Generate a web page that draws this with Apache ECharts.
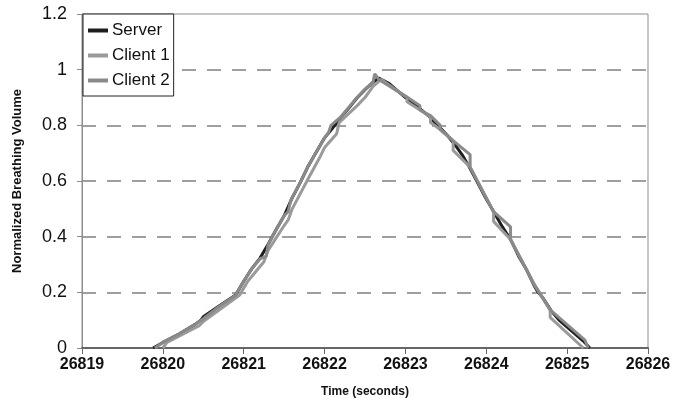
<!DOCTYPE html>
<html>
<head>
<meta charset="utf-8">
<script src="https://cdn.jsdelivr.net/npm/echarts@6/dist/echarts.min.js"></script>
<style>html,body{margin:0;padding:0;background:#fff}#c{width:685px;height:403px}</style>
</head>
<body>
<div id="c"></div>
<script>
const xTicks = [26819, 26820, 26821, 26822, 26823, 26824, 26825, 26826];
const yTicks = [0, 0.2, 0.4, 0.6, 0.8, 1, 1.2];

const serverT = [26819.88, 26820.0, 26820.2, 26820.4, 26820.47, 26820.5, 26820.7, 26820.9, 26821.0, 26821.1, 26821.2, 26821.3, 26821.4, 26821.5, 26821.6, 26821.7, 26821.8, 26821.9, 26822.0, 26822.1, 26822.2, 26822.3, 26822.4, 26822.5, 26822.6, 26822.67, 26822.8, 26822.9, 26823.0, 26823.1, 26823.2, 26823.3, 26823.4, 26823.5, 26823.6, 26823.7, 26823.8, 26823.9, 26824.0, 26824.1, 26824.2, 26824.3, 26824.4, 26824.5, 26824.6, 26824.63, 26824.7, 26824.8, 26824.9, 26825.0, 26825.1, 26825.2, 26825.28];
const serverV = [0, 0.02, 0.05, 0.085, 0.1, 0.112, 0.152, 0.19, 0.24, 0.285, 0.322, 0.372, 0.425, 0.475, 0.54, 0.595, 0.655, 0.705, 0.755, 0.79, 0.828, 0.862, 0.898, 0.928, 0.955, 0.97, 0.95, 0.925, 0.9, 0.88, 0.855, 0.83, 0.8, 0.77, 0.735, 0.695, 0.645, 0.59, 0.535, 0.485, 0.435, 0.39, 0.33, 0.28, 0.22, 0.205, 0.18, 0.135, 0.1, 0.075, 0.05, 0.025, 0];

const client1T = [26820.0, 26820.05, 26820.45, 26820.5, 26820.95, 26821.05, 26821.25, 26821.3, 26821.5, 26821.55, 26821.6, 26821.8, 26821.95, 26822.0, 26822.15, 26822.18, 26822.4, 26822.5, 26822.6, 26822.7, 26823.02, 26823.02, 26823.18, 26823.31, 26823.31, 26823.43, 26823.59, 26823.59, 26823.8, 26824.09, 26824.09, 26824.3, 26824.6, 26824.79, 26824.79, 26825.2];
const client1V = [0, 0.02, 0.08, 0.095, 0.19, 0.24, 0.31, 0.35, 0.44, 0.46, 0.5, 0.61, 0.69, 0.72, 0.77, 0.81, 0.87, 0.9, 0.94, 0.965, 0.9, 0.885, 0.855, 0.83, 0.81, 0.785, 0.745, 0.71, 0.65, 0.49, 0.455, 0.39, 0.225, 0.137, 0.11, 0];

const client2T = [26819.9, 26820.0, 26820.2, 26820.4, 26820.5, 26820.7, 26820.9, 26821.0, 26821.1, 26821.2, 26821.28, 26821.3, 26821.4, 26821.5, 26821.55, 26821.58, 26821.7, 26821.8, 26821.9, 26822.0, 26822.05, 26822.08, 26822.2, 26822.3, 26822.4, 26822.5, 26822.6, 26822.62, 26822.67, 26823.0, 26823.18, 26823.18, 26823.31, 26823.43, 26823.43, 26823.59, 26823.8, 26823.8, 26824.09, 26824.3, 26824.3, 26824.6, 26824.79, 26825.22, 26825.26];
const client2V = [0, 0.02, 0.05, 0.085, 0.105, 0.15, 0.19, 0.24, 0.285, 0.32, 0.33, 0.37, 0.425, 0.475, 0.49, 0.53, 0.595, 0.655, 0.705, 0.755, 0.775, 0.8, 0.83, 0.865, 0.9, 0.93, 0.955, 0.985, 0.965, 0.905, 0.87, 0.855, 0.835, 0.8, 0.785, 0.745, 0.695, 0.65, 0.49, 0.435, 0.39, 0.225, 0.137, 0.028, 0];

const zip = (t, v) => t.map((x, i) => [x, v[i]]);

const chart = echarts.init(document.getElementById('c'), null, {renderer: 'canvas'});
chart.setOption({
  animation: false,
  backgroundColor: '#fff',
  grid: {left: 82, right: 37, top: 14, bottom: 55, show: true, borderColor: '#8c8c8c', borderWidth: 1, backgroundColor: 'transparent'},
  legend: {
    orient: 'vertical', left: 83, top: 14, padding: [7, 4, 6, 5], itemGap: 6,
    itemWidth: 20, itemHeight: 4, icon: 'rect',
    backgroundColor: '#fff', borderColor: '#222', borderWidth: 1, borderRadius: 0,
    textStyle: {fontFamily: 'Liberation Sans, Arial, sans-serif', fontSize: 17, lineHeight: 19, color: '#111', padding: [0, 0, 0, -1]},
    data: ['Server', 'Client 1', 'Client 2']
  },
  xAxis: {
    type: 'value', min: xTicks[0], max: xTicks[xTicks.length - 1], interval: 1,
    name: 'Time (seconds)', nameLocation: 'middle', nameGap: 38,
    nameTextStyle: {fontFamily: 'Liberation Sans, Arial, sans-serif', fontWeight: 'bold', fontSize: 12, color: '#111'},
    axisLine: {lineStyle: {color: '#666', width: 2}},
    axisTick: {length: 6, lineStyle: {color: '#666', width: 1}},
    axisLabel: {formatter: v => String(v), margin: 9, fontFamily: 'Liberation Sans, Arial, sans-serif', fontWeight: 'bold', fontSize: 16, color: '#111'},
    splitLine: {show: false}
  },
  yAxis: {
    type: 'value', min: yTicks[0], max: yTicks[yTicks.length - 1], interval: 0.2,
    name: 'Normalized Breathing Volume', nameLocation: 'middle', nameGap: 58, nameRotate: 90,
    nameTextStyle: {fontFamily: 'Liberation Sans, Arial, sans-serif', fontWeight: 'bold', fontSize: 13, color: '#111'},
    axisLine: {show: true, lineStyle: {color: '#8c8c8c', width: 1}},
    axisTick: {show: true, length: 5, lineStyle: {color: '#8c8c8c'}},
    axisLabel: {formatter: v => String(Math.round(v * 10) / 10), margin: 15, fontFamily: 'Liberation Sans, Arial, sans-serif', fontSize: 18, color: '#111'},
    splitLine: {show: true, showMinLine: false, showMaxLine: false, lineStyle: {color: '#808080', width: 1.5, type: [14, 11]}}
  },
  series: [
    {name: 'Server', type: 'line', data: zip(serverT, serverV), showSymbol: false, symbol: 'none', lineStyle: {color: '#1e1e1e', width: 3}, itemStyle: {color: '#1e1e1e'}},
    {name: 'Client 1', type: 'line', data: zip(client1T, client1V), showSymbol: false, symbol: 'none', lineStyle: {color: '#9a9a9a', width: 3}, itemStyle: {color: '#9a9a9a'}},
    {name: 'Client 2', type: 'line', data: zip(client2T, client2V), showSymbol: false, symbol: 'none', lineStyle: {color: '#8a8a8a', width: 3}, itemStyle: {color: '#8a8a8a'}}
  ]
});
</script>
</body>
</html>
